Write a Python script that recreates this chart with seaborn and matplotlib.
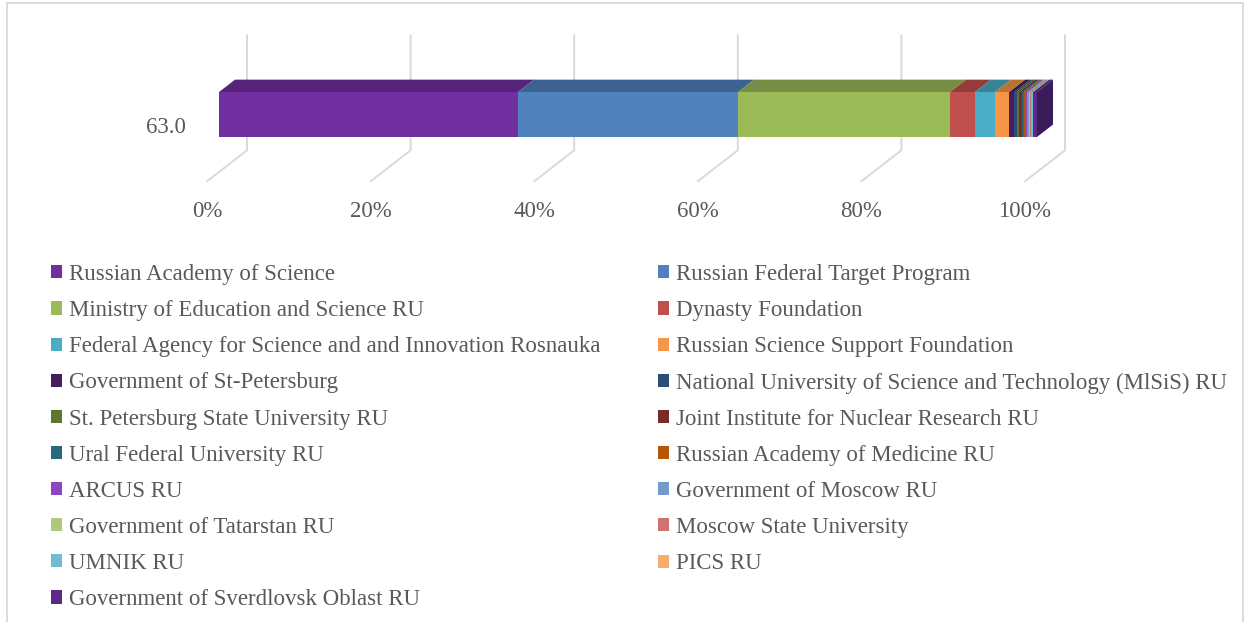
import numpy as np
import pandas as pd
import matplotlib
matplotlib.use("Agg")
import matplotlib.pyplot as plt
import seaborn as sns
from matplotlib.patches import Polygon, Rectangle, Patch
from matplotlib.lines import Line2D
from matplotlib.transforms import IdentityTransform
from matplotlib.colors import to_rgb

# ---------------- data ----------------
category = "63.0"
series = [
    "Russian Academy of Science",
    "Russian Federal Target Program",
    "Ministry of Education and Science RU",
    "Dynasty Foundation",
    "Federal Agency for Science and and Innovation Rosnauka",
    "Russian Science Support Foundation",
    "Government of St-Petersburg",
    "National University of Science and Technology (MlSiS) RU",
    "St. Petersburg State University RU",
    "Joint Institute for Nuclear Research RU",
    "Ural Federal University RU",
    "Russian Academy of Medicine RU",
    "ARCUS RU",
    "Government of Moscow RU",
    "Government of Tatarstan RU",
    "Moscow State University",
    "UMNIK RU",
    "PICS RU",
    "Government of Sverdlovsk Oblast RU",
]
shares = [36.55, 26.9, 25.9, 3.06, 2.44, 1.75,
          0.57, 0.33, 0.33, 0.33, 0.24, 0.16,
          0.24, 0.16, 0.16, 0.16, 0.16, 0.09, 0.45]
colors = ["#7030A0", "#4F81BD", "#9BBB59", "#C0504D", "#4BACC6", "#F79646",
          "#431D60", "#2C4D75", "#5F7530", "#772C2A", "#276A7C", "#B65708",
          "#8B46C2", "#729ACA", "#AFC97A", "#CD7371", "#6FBDD1", "#F9AB6B",
          "#5A2A88"]
tick_values = [0, 20, 40, 60, 80, 100]
tick_labels = ["0%", "20%", "40%", "60%", "80%", "100%"]

# ---------------- style ----------------
W, H = 1246, 622
TXT = "#595959"
GRID = "#d9d9d9"
FONT = "Liberation Serif"
FS = 16.5
DX, DY = 40.0, 31.0          # depth vector in pixels (right, up)
BAR_FRONT, BAR_BACK = 0.3, 0.7

sns.set_theme(style="white")
plt.rcParams["font.family"] = [FONT, "DejaVu Serif"]

fig = plt.figure(figsize=(W / 100, H / 100), dpi=100)
fig.patch.set_facecolor("white")

# chart border
fig.add_artist(Rectangle((7 / W, -0.1), (1243 - 7) / W, 1.1 - 3 / H,
                         transform=fig.transFigure, fill=False,
                         edgecolor=GRID, linewidth=1.3))

ax = fig.add_axes([219 / W, 450 / H, 818 / W, 115 / H])
ax.patch.set_visible(False)

total = float(np.sum(shares))
pct = [100.0 * s / total for s in shares]
cum = list(np.cumsum(pct))
df = pd.DataFrame({"cat": [category] * len(series), "series": series, "cum": cum})
pal = dict(zip(series, colors))

sns.barplot(data=df, x="cum", y="cat", hue="series", hue_order=series[::-1],
            palette=pal, dodge=False, width=1.0, saturation=1, orient="h",
            linewidth=0, legend=False, ax=ax, zorder=5)
ax.set_xlim(0, 100)
ax.set_ylim(1.28, -1.28)
ax.set_axis_off()
for p in ax.patches:
    p.set_clip_on(False)
    p.set_zorder(5)

fig.canvas.draw()
T = ax.transData


def disp(x, y, depth=0.0):
    """display coords of data point moved by depth (fraction of depth vector,
    relative to the bar front plane)."""
    px, py = T.transform((x, y))
    return np.array([px + depth * DX, py + depth * DY])


def darker(c, f):
    r, g, b = to_rgb(c)
    return (r * f, g * f, b * f)


# back wall gridlines + floor lines (behind the bar)
y_floor, y_top = 1.28, -1.28
for t in tick_values:
    a = disp(t, y_top, BAR_BACK)
    b = disp(t, y_floor, BAR_BACK)
    c = disp(t, y_floor, -BAR_FRONT)
    ln = Line2D([a[0], b[0], c[0]], [a[1], b[1], c[1]],
                transform=IdentityTransform(), color=GRID,
                linewidth=1.4, zorder=1, clip_on=False)
    ax.add_artist(ln)

# top faces and end face of the bar
d = BAR_BACK - BAR_FRONT
left = 0.0
for i, (v, c) in enumerate(zip(pct, colors)):
    right = left + v
    p1 = disp(left, -0.5)
    p2 = disp(right, -0.5)
    pts = [p1, p2, p2 + [d * DX, d * DY], p1 + [d * DX, d * DY]]
    ax.add_artist(Polygon(pts, closed=True, transform=IdentityTransform(),
                          facecolor=darker(c, 0.76), edgecolor="none",
                          zorder=4, clip_on=False))
    left = right
q1 = disp(100, -0.5)
q2 = disp(100, 0.5)
side = [q1, q2, q2 + [d * DX, d * DY], q1 + [d * DX, d * DY]]
ax.add_artist(Polygon(side, closed=True, transform=IdentityTransform(),
                      facecolor=darker(colors[-1], 0.66), edgecolor="none",
                      zorder=4, clip_on=False))

# tick labels (front floor edge)
for t, lab in zip(tick_values, tick_labels):
    p = disp(t, y_floor, -BAR_FRONT)
    fig.text(p[0] / W, (p[1] - 35.7) / H, lab, ha="center", va="baseline",
             color=TXT, fontsize=FS, family=[FONT, "DejaVu Serif"])

# category label
p = disp(0, 0, -BAR_FRONT)
fig.text((p[0] - 21) / W, (p[1] - 9.2) / H, category, ha="right", va="baseline",
         color=TXT, fontsize=FS, family=[FONT, "DejaVu Serif"])

# legend (row-major order, two columns)
handles = [Patch(facecolor=c, edgecolor="none") for c in colors]
leg_kw = dict(frameon=False, labelcolor=TXT, handlelength=0.5,
              handleheight=0.5, handletextpad=0.3, labelspacing=0.66,
              borderpad=0, borderaxespad=0, loc="upper left",
              prop={"family": [FONT, "DejaVu Serif"], "size": FS})
idx_l = list(range(0, len(series), 2))
idx_r = list(range(1, len(series), 2))
l1 = fig.legend([handles[i] for i in idx_l], [series[i] for i in idx_l],
                bbox_to_anchor=(51 / W, 1 - 264 / H), **leg_kw)
l2 = fig.legend([handles[i] for i in idx_r], [series[i] for i in idx_r],
                bbox_to_anchor=(658 / W, 1 - 264 / H), **leg_kw)

fig.savefig("out.png", dpi=100)
